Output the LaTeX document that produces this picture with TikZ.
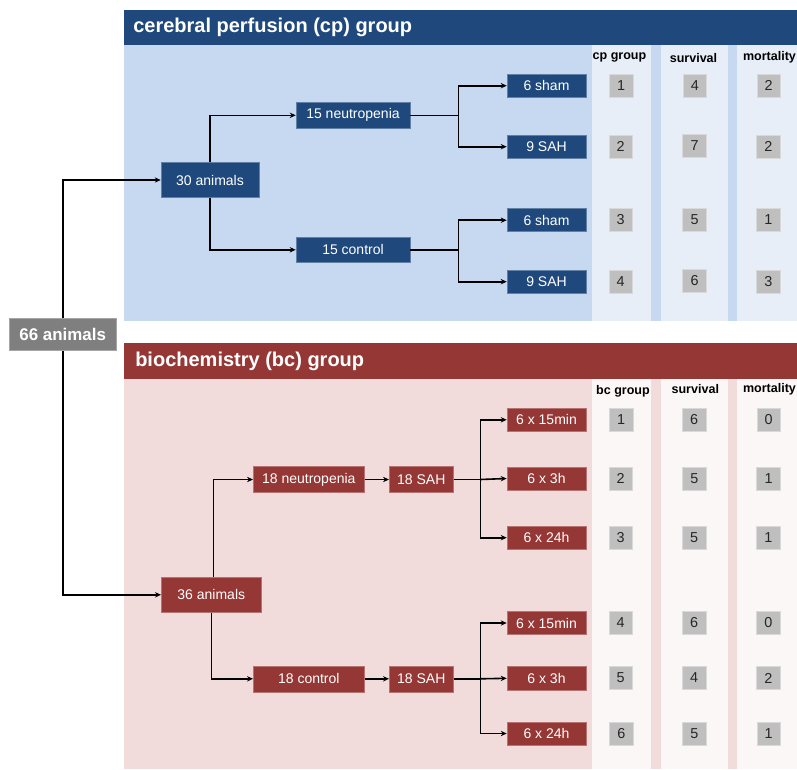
\documentclass[tikz,border=0pt]{standalone}
\usepackage{fontspec}
\setmainfont{Liberation Sans}
\usetikzlibrary{arrows.meta}
\definecolor{dblue}{HTML}{1F497D}
\definecolor{lblue}{HTML}{C6D9F0}
\definecolor{cblue}{HTML}{E7EEF8}
\definecolor{dred}{HTML}{953735}
\definecolor{lred}{HTML}{F2DCDB}
\definecolor{cred}{HTML}{FBF7F7}
\definecolor{numgray}{HTML}{BFBFBF}
\definecolor{boxgray}{HTML}{7F7F7F}
\tikzset{
  bbox/.style={fill=dblue, draw=dblue!70!white, line width=0.4pt, text=white, inner sep=0pt, font=\fontsize{10.5}{12}\selectfont},
  rbox/.style={fill=dred, draw=dred!70!white, line width=0.4pt, text=white, inner sep=0pt, font=\fontsize{10.5}{12}\selectfont},
  numbox/.style={fill=numgray, draw=numgray!60!white, line width=0.4pt, text=black!85, minimum width=17.75pt, minimum height=17.25pt, inner sep=0pt, font=\fontsize{10.8}{12}\selectfont},
  colhead/.style={font=\bfseries\fontsize{9.4}{11}\selectfont, text=black, inner sep=0pt},
  title/.style={font=\bfseries\fontsize{15}{18}\selectfont, text=white, anchor=west, inner sep=0pt},
  conn/.style={line width=1.2pt, -{Stealth[length=4.5pt, width=4pt]}},
  plain/.style={line width=1.2pt}
}
\begin{document}
\begin{tikzpicture}[x=0.75pt,y=-0.75pt]
\useasboundingbox (0,0) rectangle (797,769);
% ---------- top panel ----------
\fill[lblue] (124,45) rectangle (797,321);
\fill[dblue] (124,9.5) rectangle (797,45);
\fill[cblue] (591.7,45) rectangle (651,321);
\fill[cblue] (660.7,45) rectangle (728.3,321);
\fill[cblue] (736.7,45) rectangle (797,321);
\node[title] (ttop) at (133,27.5) {cerebral perfusion (cp) group};
% ---------- bottom panel ----------
\fill[lred] (124,379.3) rectangle (797,769);
\fill[dred] (124,343.3) rectangle (797,379.3);
\fill[cred] (591.7,379.3) rectangle (651,769);
\fill[cred] (660.7,379.3) rectangle (728.3,769);
\fill[cred] (736.7,379.3) rectangle (797,769);
\node[title] (tbot) at (135,361.5) {biochemistry (bc) group};

% ---------- root ----------
\node[fill=boxgray, draw=boxgray!70!white, line width=0.4pt, text=white, font=\bfseries\fontsize{12.7}{15}\selectfont, minimum width=80.25pt, minimum height=24pt, inner sep=0pt] (root) at (62.7,334.5) {66 animals};

% ---------- top nodes ----------
\node[bbox, minimum width=73.5pt, minimum height=26.25pt] (a30) at (210,180) {30 animals};
\node[bbox, minimum width=85.5pt, minimum height=19.5pt] (n15) at (353,115.3) {15 neutropenia};
\node[bbox, minimum width=85.5pt, minimum height=18.75pt] (c15) at (353,249.8) {15 control};
\node[bbox, minimum width=59.25pt, minimum height=17.25pt] (s1) at (546.5,85.7) {6 sham};
\node[bbox, minimum width=59.25pt, minimum height=17.25pt] (h1) at (546.5,146.7) {9 SAH};
\node[bbox, minimum width=59.25pt, minimum height=17.25pt] (s2) at (546.5,220.2) {6 sham};
\node[bbox, minimum width=59.25pt, minimum height=17.25pt] (h2) at (546.5,281.7) {9 SAH};

\coordinate (jt1) at (458.3,115.3);
\coordinate (jt2) at (458.3,249.8);

\draw[conn] (root.north) |- (a30.west);
\draw[conn] (a30.north) |- (n15.west);
\draw[conn] (a30.south) |- (c15.west);
\draw[plain] (n15.east) -- (jt1);
\draw[conn] (jt1) |- (s1.west);
\draw[conn] (jt1) |- (h1.west);
\draw[plain] (c15.east) -- (jt2);
\draw[conn] (jt2) |- (s2.west);
\draw[conn] (jt2) |- (h2.west);

% top table
\node[colhead] (hcp) at (619.5,57.5) {cp group};
\node[colhead] (hsv1) at (693.5,58.5) {survival};
\node[colhead] (hmo1) at (769.5,57.5) {mortality};
\node[numbox] (t11) at (621,85.5) {1};
\node[numbox] (t12) at (694.8,85.5) {4};
\node[numbox] (t13) at (768.7,85.5) {2};
\node[numbox] (t21) at (620.7,146.5) {2};
\node[numbox] (t22) at (694.5,146) {7};
\node[numbox] (t23) at (768.3,146.5) {2};
\node[numbox] (t31) at (620.7,219.8) {3};
\node[numbox] (t32) at (694.5,219.5) {5};
\node[numbox] (t33) at (768.3,219.8) {1};
\node[numbox] (t41) at (620.7,281.5) {4};
\node[numbox] (t42) at (694.5,281) {6};
\node[numbox] (t43) at (768.3,281.5) {3};

% ---------- bottom nodes ----------
\node[rbox, minimum width=75pt, minimum height=26.25pt] (a36) at (211.3,594.8) {36 animals};
\node[rbox, minimum width=83.25pt, minimum height=19.5pt] (n18) at (308.8,479.5) {18 neutropenia};
\node[rbox, minimum width=83.25pt, minimum height=19.5pt] (c18) at (308.8,678.8) {18 control};
\node[rbox, minimum width=48pt, minimum height=19.5pt] (sa1) at (421.3,479.5) {18 SAH};
\node[rbox, minimum width=48pt, minimum height=19.5pt] (sa2) at (421.3,678.8) {18 SAH};
\node[rbox, minimum width=59.25pt, minimum height=17.6pt] (m1) at (546.5,419.8) {6 x 15min};
\node[rbox, minimum width=59.25pt, minimum height=17.6pt] (h31) at (546.5,478.5) {6 x 3h};
\node[rbox, minimum width=59.25pt, minimum height=17.6pt] (d1) at (546.5,537.7) {6 x 24h};
\node[rbox, minimum width=59.25pt, minimum height=17.6pt] (m2) at (546.5,623) {6 x 15min};
\node[rbox, minimum width=59.25pt, minimum height=17.6pt] (h32) at (546.5,678.3) {6 x 3h};
\node[rbox, minimum width=59.25pt, minimum height=17.6pt] (d2) at (546.5,733.5) {6 x 24h};

\coordinate (jb1) at (480.3,479.5);
\coordinate (jb2) at (480.3,678.8);

\draw[conn] (root.south) |- (a36.west);
\draw[conn] ([xshift=1.5pt]a36.north) |- (n18.west);
\draw[conn] (a36.south) |- (c18.west);
\draw[conn] (n18.east) -- (sa1.west);
\draw[conn] (c18.east) -- (sa2.west);
\draw[plain] (sa1.east) -- (jb1);
\draw[conn] (jb1) |- (m1.west);
\draw[conn] (jb1) -- (h31.west);
\draw[conn] (jb1) |- (d1.west);
\draw[plain] (sa2.east) -- (jb2);
\draw[conn] (jb2) |- (m2.west);
\draw[conn] (jb2) -- (h32.west);
\draw[conn] (jb2) |- (d2.west);

% bottom table
\node[colhead] (hbc) at (623,391) {bc group};
\node[colhead] (hsv2) at (695.3,389.5) {survival};
\node[colhead] (hmo2) at (769.5,389) {mortality};
\node[numbox] (b11) at (621,419.5) {1};
\node[numbox] (b12) at (694,419.3) {6};
\node[numbox] (b13) at (768.7,419.3) {0};
\node[numbox] (b21) at (620.7,478.3) {2};
\node[numbox] (b22) at (694.3,478.3) {5};
\node[numbox] (b23) at (768.5,478.3) {1};
\node[numbox] (b31) at (620.7,537.5) {3};
\node[numbox] (b32) at (694,537.3) {5};
\node[numbox] (b33) at (768.3,537.3) {1};
\node[numbox] (b41) at (620.7,622.5) {4};
\node[numbox] (b42) at (694,622.5) {6};
\node[numbox] (b43) at (768.3,622.5) {0};
\node[numbox] (b51) at (620.7,678) {5};
\node[numbox] (b52) at (694,678) {4};
\node[numbox] (b53) at (768.3,678) {2};
\node[numbox] (b61) at (621.3,733.3) {6};
\node[numbox] (b62) at (694.3,733.3) {5};
\node[numbox] (b63) at (768.7,733.3) {1};
\end{tikzpicture}
\end{document}
